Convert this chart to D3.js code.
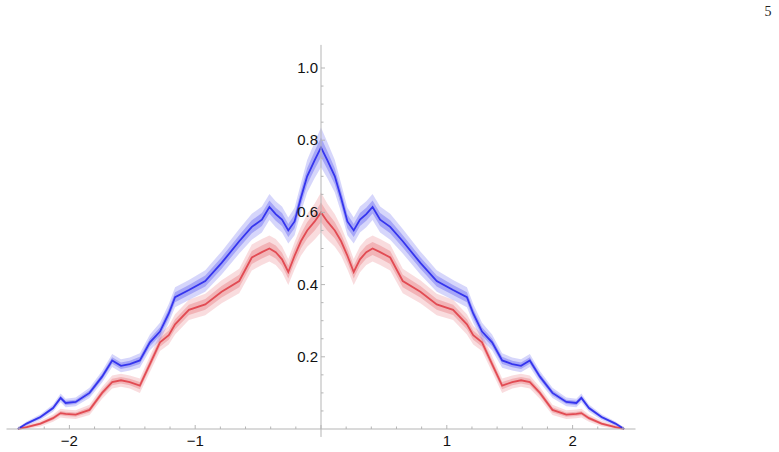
<!DOCTYPE html>
<html>
<head>
<meta charset="utf-8">
<script src="https://cdn.jsdelivr.net/npm/d3@7"></script>
<style>
  html, body { margin: 0; padding: 0; background: #fff; }
  svg { display: block; }
</style>
</head>
<body>
<svg id="chart" width="779" height="452"></svg>
<script>
// ---- data ----
const xValues = [-2.41, -2.34, -2.23, -2.13, -2.07, -2.03, -1.95, -1.84, -1.74, -1.66, -1.59, -1.52, -1.44, -1.36, -1.28, -1.21, -1.16, -1.05, -0.92, -0.79, -0.65, -0.55, -0.47, -0.41, -0.36, -0.31, -0.26, -0.21, -0.16, -0.11, -0.05,
  0, 0.05, 0.11, 0.16, 0.21, 0.26, 0.31, 0.36, 0.41, 0.47, 0.55, 0.65, 0.79, 0.92, 1.05, 1.16, 1.21, 1.28, 1.36, 1.44, 1.52, 1.59, 1.66, 1.74, 1.84, 1.95, 2.03, 2.07, 2.13, 2.23, 2.34, 2.41];
const blueValues = [0.0, 0.015, 0.033, 0.058, 0.086, 0.072, 0.075, 0.10, 0.145, 0.19, 0.175, 0.18, 0.19, 0.24, 0.27, 0.32, 0.365, 0.385, 0.41, 0.46, 0.52, 0.56, 0.58, 0.615, 0.595, 0.58, 0.55, 0.575, 0.64, 0.70, 0.745,
  0.78, 0.745, 0.70, 0.64, 0.575, 0.55, 0.58, 0.595, 0.615, 0.58, 0.56, 0.52, 0.46, 0.41, 0.385, 0.365, 0.32, 0.27, 0.24, 0.19, 0.18, 0.175, 0.19, 0.145, 0.10, 0.075, 0.072, 0.086, 0.058, 0.033, 0.015, 0.0];
const redValues = [0.0, 0.005, 0.015, 0.03, 0.044, 0.042, 0.04, 0.053, 0.10, 0.13, 0.135, 0.13, 0.12, 0.18, 0.24, 0.26, 0.29, 0.33, 0.345, 0.38, 0.41, 0.475, 0.49, 0.50, 0.49, 0.47, 0.435, 0.48, 0.52, 0.55, 0.575,
  0.60, 0.575, 0.55, 0.52, 0.48, 0.435, 0.47, 0.49, 0.50, 0.49, 0.475, 0.41, 0.38, 0.345, 0.33, 0.29, 0.26, 0.24, 0.18, 0.12, 0.13, 0.135, 0.13, 0.10, 0.053, 0.04, 0.042, 0.044, 0.03, 0.015, 0.005, 0.0];
const spreadValues = [0.004, 0.006, 0.008, 0.01, 0.012, 0.012, 0.012, 0.014, 0.016, 0.018, 0.018, 0.018, 0.02, 0.022, 0.024, 0.026, 0.028, 0.028, 0.03, 0.032, 0.034, 0.036, 0.036, 0.036, 0.036, 0.036, 0.036, 0.038, 0.04, 0.045, 0.05,
  0.055, 0.05, 0.045, 0.04, 0.038, 0.036, 0.036, 0.036, 0.036, 0.036, 0.036, 0.034, 0.032, 0.03, 0.028, 0.028, 0.026, 0.024, 0.022, 0.02, 0.018, 0.018, 0.018, 0.016, 0.014, 0.012, 0.012, 0.012, 0.01, 0.008, 0.006, 0.004];
const xTicks = [-2, -1, 1, 2];
const yTicks = [0.2, 0.4, 0.6, 0.8, 1.0];
const cornerLabel = "5";

// ---- scales ----
const svg = d3.select("#chart");
const x = d3.scaleLinear().domain([-2.5, 2.5]).range([6.5, 635.5]);
const y = d3.scaleLinear().domain([0, 1]).range([429, 68]);

// ---- series ----
function drawSeries(vals, color, bandOpacity, lineOpacity) {
  const pts = xValues.map((xv, i) => ({ x: xv, y: vals[i], s: spreadValues[i] }));
  const area = d3.area()
    .x(d => x(d.x))
    .y0(d => y(Math.max(0, d.y - d.s)))
    .y1(d => y(d.y + d.s));
  svg.append("path").datum(pts).attr("d", area)
    .attr("fill", color).attr("fill-opacity", bandOpacity);
  const area2 = d3.area()
    .x(d => x(d.x))
    .y0(d => y(Math.max(0, d.y - d.s * 0.5)))
    .y1(d => y(d.y + d.s * 0.5));
  svg.append("path").datum(pts).attr("d", area2)
    .attr("fill", color).attr("fill-opacity", bandOpacity * 1.4);
  const line = d3.line().x(d => x(d.x)).y(d => y(d.y));
  svg.append("path").datum(pts).attr("d", line)
    .attr("fill", "none").attr("stroke", color)
    .attr("stroke-opacity", lineOpacity).attr("stroke-width", 1.8);
}
drawSeries(redValues, "rgb(220,40,50)", 0.16, 0.75);
drawSeries(blueValues, "rgb(25,25,235)", 0.18, 0.8);

// ---- axes ----
const axisColor = "#b5b5b5";
svg.append("line").attr("x1", x(-2.5)).attr("x2", x(2.5))
  .attr("y1", y(0)).attr("y2", y(0))
  .attr("stroke", axisColor).attr("stroke-width", 1);
d3.range(-24, 25, 2).map(v => v / 10).forEach(v => {
  const major = Number.isInteger(v);
  svg.append("line").attr("x1", x(v)).attr("x2", x(v))
    .attr("y1", y(0)).attr("y2", y(0) - (major ? 4 : 2.5))
    .attr("stroke", axisColor).attr("stroke-width", 1);
});
xTicks.forEach(v => {
  svg.append("text").attr("x", x(v)).attr("y", 446)
    .attr("text-anchor", "middle")
    .attr("font-family", "Liberation Sans, Arial, sans-serif").attr("font-size", 15)
    .attr("fill", "#111")
    .text(String(v).replace("-", "\u2212"));
});

// y axis
svg.append("line").attr("x1", x(0)).attr("x2", x(0))
  .attr("y1", y(1.064)).attr("y2", y(-0.022))
  .attr("stroke", axisColor).attr("stroke-width", 1);
d3.range(1, 21).map(v => v / 20).forEach(v => {
  const major = Math.abs(v * 5 - Math.round(v * 5)) < 1e-9;
  svg.append("line").attr("x1", x(0)).attr("x2", x(0) + (major ? 4 : 2.5))
    .attr("y1", y(v)).attr("y2", y(v))
    .attr("stroke", axisColor).attr("stroke-width", 1);
});
yTicks.forEach(v => {
  svg.append("text").attr("x", x(0) - 3).attr("y", y(v) + 5)
    .attr("text-anchor", "end")
    .attr("font-family", "Liberation Sans, Arial, sans-serif").attr("font-size", 15)
    .attr("fill", "#111")
    .text(d3.format(".1f")(v));
});

// corner label
svg.append("text").attr("x", 768).attr("y", 16)
  .attr("text-anchor", "middle")
  .attr("font-family", "Liberation Serif, Times New Roman, serif").attr("font-size", 14)
  .attr("fill", "#222").text(cornerLabel);
</script>
</body>
</html>
